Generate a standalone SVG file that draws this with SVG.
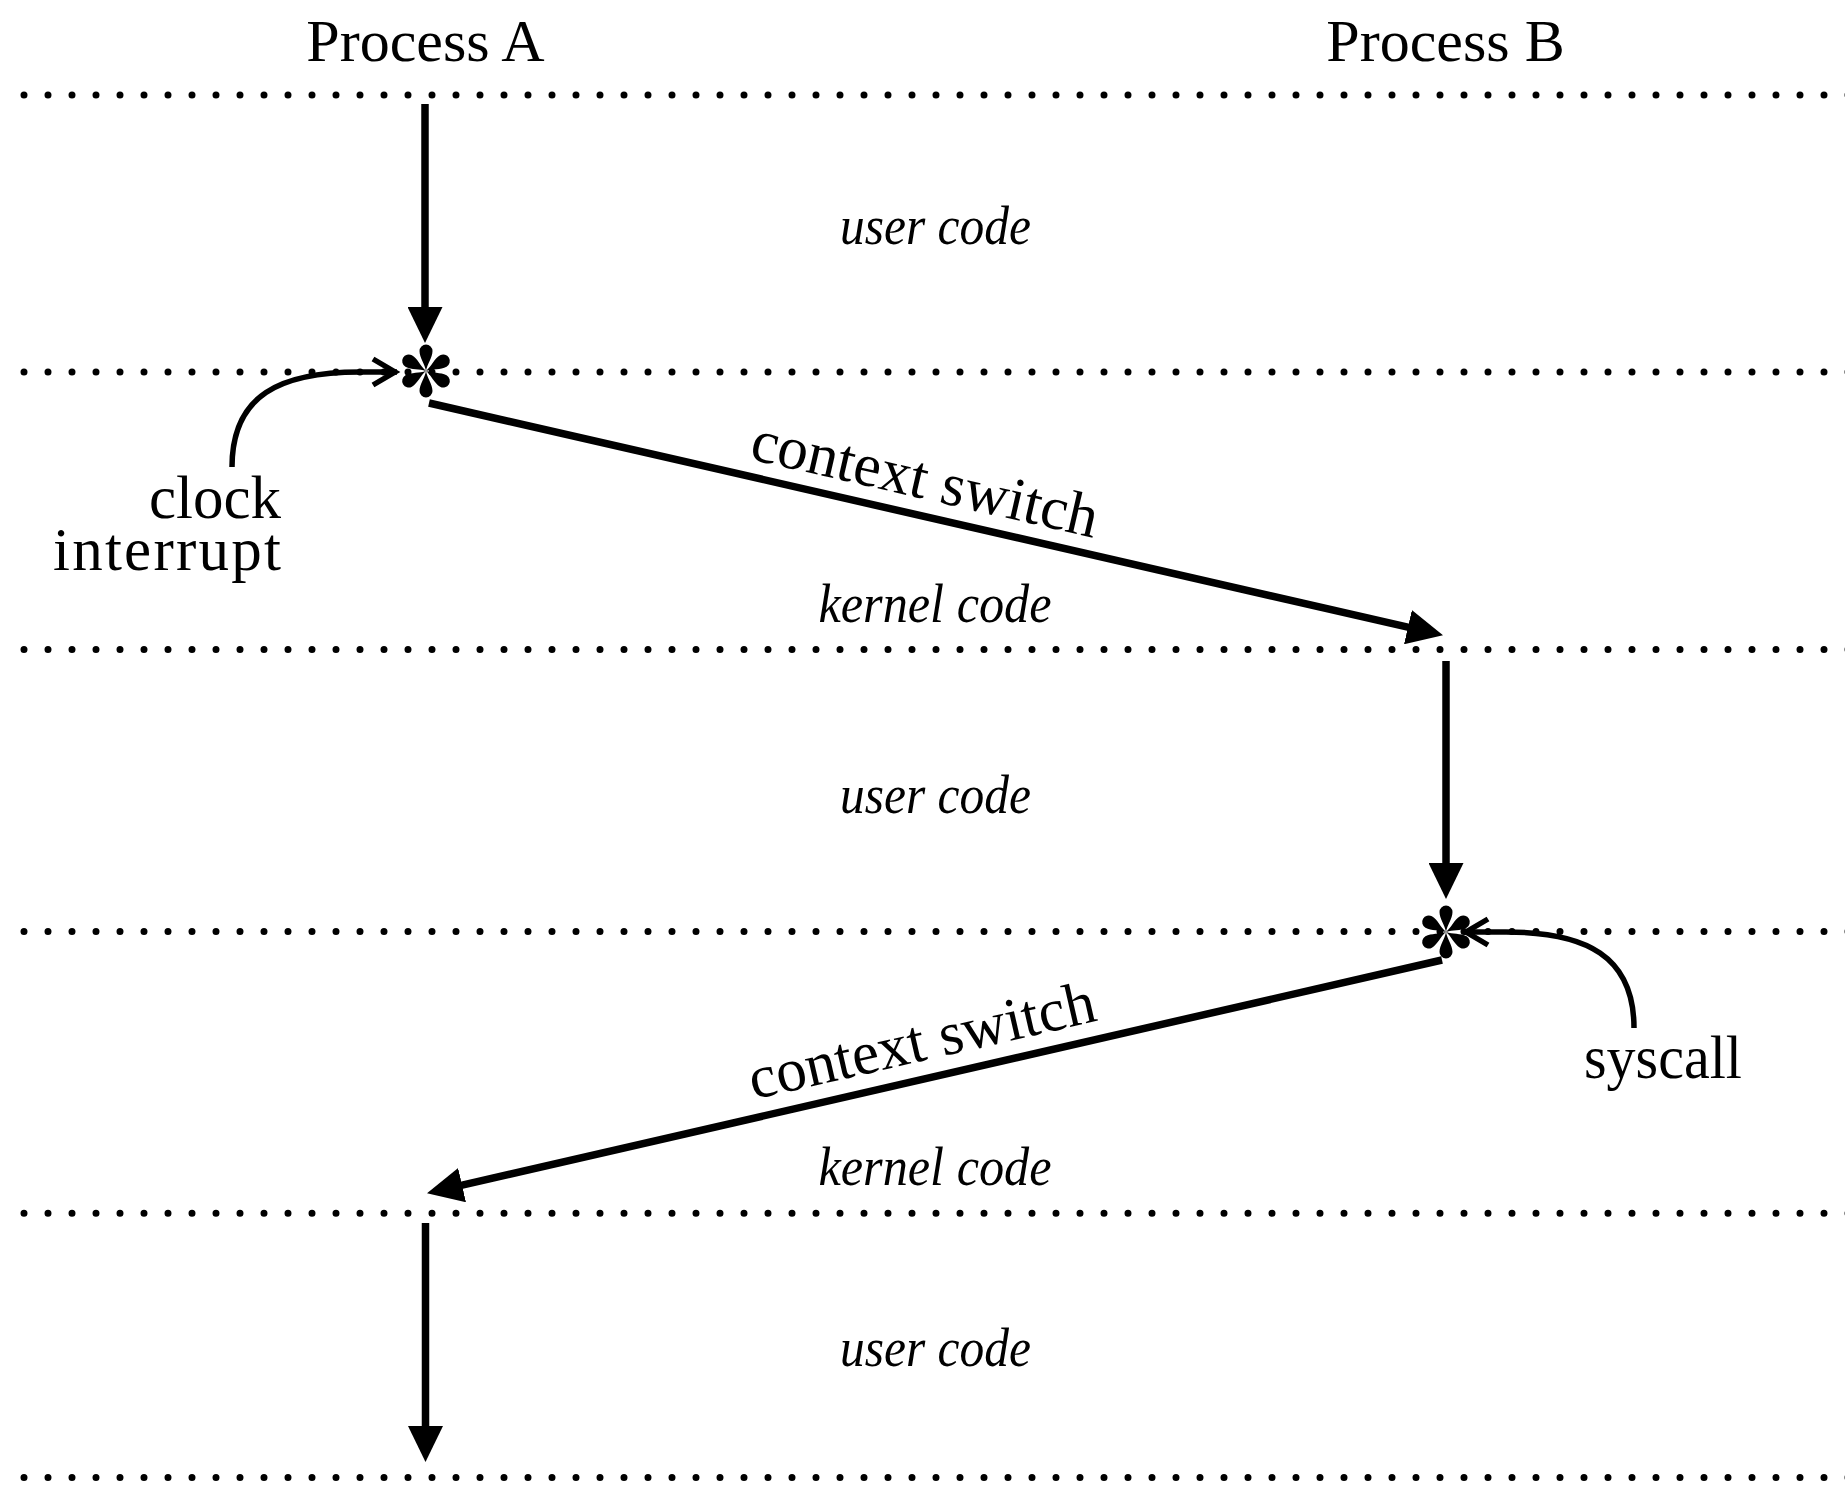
<svg xmlns="http://www.w3.org/2000/svg" xmlns:xlink="http://www.w3.org/1999/xlink" width="1845" height="1490" viewBox="0 0 1845 1490">
  <style>
    .lane { stroke: #000; stroke-width: 7; stroke-linecap: round; stroke-dasharray: 0 24; fill: none; }
    .flow { stroke: #000; stroke-width: 7.5; fill: none; marker-end: url(#head); }
    .hint { stroke: #000; stroke-width: 5.5; fill: none; marker-end: url(#open); }
    .title { font-family: "Liberation Serif", "Times New Roman", serif; font-size: 60px; fill: #000; }
    .note { font-family: "Liberation Serif", "Times New Roman", serif; font-size: 61px; fill: #000; }
    .zone { font-family: "Liberation Serif", "Times New Roman", serif; font-style: italic; font-size: 54px; fill: #000; text-anchor: middle; }
  </style>
  <defs>
    <!-- filled arrowhead, placed at the end of the shaft -->
    <marker id="head" markerUnits="userSpaceOnUse" viewBox="0 0 36 35" refX="1" refY="17.5" markerWidth="36" markerHeight="35" orient="auto">
      <path d="M0,0 L36,17.5 L0,35 Z" fill="#000"/>
    </marker>
    <!-- open chevron for the event pointers -->
    <marker id="open" markerUnits="userSpaceOnUse" viewBox="-30 -18 34 36" refX="0" refY="0" markerWidth="34" markerHeight="36" orient="auto">
      <path d="M-24,-13 L-2,0 L-24,13" fill="none" stroke="#000" stroke-width="5.5"/>
    </marker>
    <!-- six-petal asterisk marking an event -->
    <path id="petal" d="M0,0 C-1,-7 -6.5,-13 -6.5,-20 A6.5,6.5 0 0 1 6.5,-20 C6.5,-13 1,-7 0,0 Z" fill="#000"/>
    <g id="star">
      <use xlink:href="#petal"/>
      <use xlink:href="#petal" transform="rotate(60)"/>
      <use xlink:href="#petal" transform="rotate(120)"/>
      <use xlink:href="#petal" transform="rotate(180)"/>
      <use xlink:href="#petal" transform="rotate(240)"/>
      <use xlink:href="#petal" transform="rotate(300)"/>
    </g>
  </defs>

  <rect width="1845" height="1490" fill="#fff"/>

  <!-- dotted boundaries between execution phases -->
  <g id="boundaries">
    <line class="lane" x1="24" y1="95" x2="1850" y2="95"/>
    <line class="lane" x1="24" y1="372" x2="1850" y2="372"/>
    <line class="lane" x1="24" y1="649.5" x2="1850" y2="649.5"/>
    <line class="lane" x1="24" y1="931.5" x2="1850" y2="931.5"/>
    <line class="lane" x1="24" y1="1213.3" x2="1850" y2="1213.3"/>
    <line class="lane" x1="24" y1="1477.5" x2="1850" y2="1477.5"/>
  </g>

  <!-- column headings -->
  <g id="process-a">
    <text class="title" x="425.5" y="61" text-anchor="middle">Process A</text>
  </g>
  <g id="process-b">
    <text class="title" x="1445.5" y="61" text-anchor="middle">Process B</text>
  </g>

  <!-- phase names -->
  <g id="phases">
    <text class="zone" x="935.5" y="244" textLength="191" lengthAdjust="spacingAndGlyphs">user code</text>
    <text class="zone" x="935" y="621.5" textLength="233" lengthAdjust="spacingAndGlyphs">kernel code</text>
    <text class="zone" x="935.5" y="813" textLength="191" lengthAdjust="spacingAndGlyphs">user code</text>
    <text class="zone" x="935" y="1185" textLength="233" lengthAdjust="spacingAndGlyphs">kernel code</text>
    <text class="zone" x="935.5" y="1366" textLength="191" lengthAdjust="spacingAndGlyphs">user code</text>
  </g>

  <!-- event points -->
  <g id="clock-interrupt">
    <use xlink:href="#star" transform="translate(426,371)"/>
    <text class="note" x="281" y="518" text-anchor="end">clock</text>
    <text class="note" x="281" y="569.5" text-anchor="end" textLength="228" lengthAdjust="spacing">interrupt</text>
  </g>
  <g id="syscall">
    <use xlink:href="#star" transform="translate(1446,932)"/>
    <text class="note" x="1663" y="1078" text-anchor="middle" textLength="158" lengthAdjust="spacingAndGlyphs">syscall</text>
  </g>

  <!-- execution flow and pointers -->
  <g id="connectors">
    <path class="flow" d="M425,104 V308"/>
    <path class="flow" d="M429,403 L1408.9,627.4"/>
    <path class="flow" d="M1446,661 V864"/>
    <path class="flow" d="M1442,960 L461.1,1185.4"/>
    <path class="flow" d="M425.5,1223 V1427"/>
    <path class="hint" d="M232,467 C232,395 280,372 360,372 L397,372"/>
    <path class="hint" d="M1634,1028 C1634,956 1586,932 1506,932 L1464,932"/>
  </g>

  <!-- connector labels -->
  <g id="switch-labels">
    <text class="note" transform="translate(935.5,519) rotate(12.9)" x="-19" y="-17" text-anchor="middle">context switch</text>
    <text class="note" transform="translate(935,1076.5) rotate(-12.9)" x="-5" y="-18" text-anchor="middle">context switch</text>
  </g>
</svg>
